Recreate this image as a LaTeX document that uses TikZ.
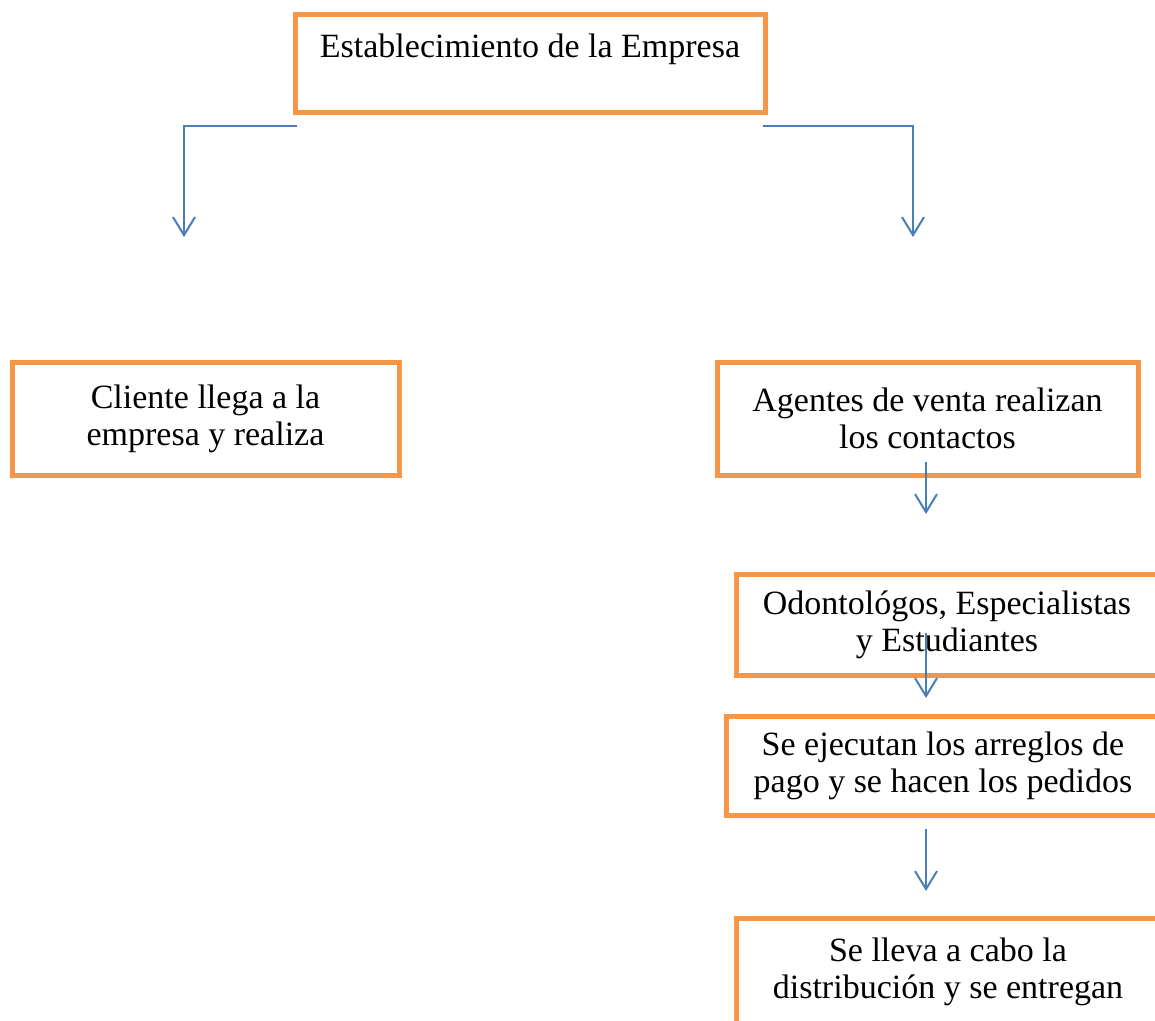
\documentclass[tikz,border=0pt]{standalone}
\usepackage{fontspec}
\setmainfont{Liberation Serif}
\usepackage{xcolor}
\usetikzlibrary{arrows.meta}
\usetikzlibrary{calc}
\definecolor{boxorange}{HTML}{F79646}
\definecolor{linkblue}{HTML}{4A7EBB}

\begin{document}
\begin{tikzpicture}[
  x=1pt, y=-1pt,
  stage/.style={draw=boxorange, line width=5pt, outer sep=0pt, inner sep=0pt,
    align=center, font=\fontsize{34}{37}\selectfont},
  link/.style={draw=linkblue, line width=2pt, -{Straight Barb[length=18pt,width=22pt]}},
]

\useasboundingbox (0,0) rectangle (1155,1020);

\node [stage, minimum width=470pt, minimum height=98pt, inner ysep=10pt,
  text height=33pt, text depth=45pt] (empresa) at (530,63) {Establecimiento de la Empresa};
\node [stage, minimum width=387pt, minimum height=113pt] (cliente) at (205.5,418.5) {Cliente llega a la\\empresa y realiza};
\node [stage, minimum width=421pt, minimum height=113pt] (agentes) at (927.5,418.5) {Agentes de venta realizan\\los contactos};
\node [stage, minimum width=422pt, minimum height=101pt] (odonto) at (947,624.5) {Odontológos, Especialistas\\y Estudiantes};
\node [stage, minimum width=434pt, minimum height=99pt] (pagos) at (943,765.5) {Se ejecutan los arreglos de\\pago y se hacen los pedidos};
\node [stage, minimum width=424pt, minimum height=108pt] (entrega) at (948,972) {Se lleva a cabo la\\distribución y se entregan};

\coordinate (col) at (926,0);
\coordinate (leftend) at (184,237);
\coordinate (rightend) at (913,237);

\draw [link] ($(empresa.south west)+(2,14)$) -| (leftend);
\draw [link] ($(empresa.south east)+(-2,14)$) -| (rightend);
\draw [link] ($(agentes.south -| col)+(0,-13)$) -- ++(0,52);
\draw [link] ($(odonto.south -| col)+(0,-42)$) -- ++(0,65);
\draw [link] ($(pagos.south -| col)+(0,14)$) -- ++(0,62);

\end{tikzpicture}
\end{document}
